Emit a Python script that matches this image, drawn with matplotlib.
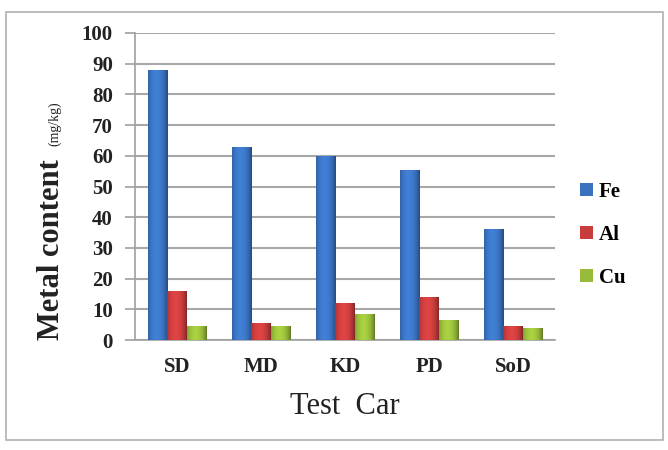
import numpy as np
import matplotlib
matplotlib.use("Agg")
import matplotlib.pyplot as plt
from matplotlib.patches import Rectangle
from matplotlib.colors import to_rgb

cars = ["SD", "MD", "KD", "PD", "SoD"]
fe = [88, 63, 60, 55.5, 36]
al = [16, 5.5, 12, 14, 4.5]
cu = [4.5, 4.5, 8.5, 6.5, 4]
y_ticks = [0, 10, 20, 30, 40, 50, 60, 70, 80, 90, 100]

plt.rcParams['font.family'] = ['Liberation Serif', 'DejaVu Serif']

fig = plt.figure(figsize=(6.68, 4.5), dpi=100)
fig.patches.append(Rectangle((6 / 668, 1 - 440 / 450), 657 / 668, 428 / 450,
                             transform=fig.transFigure, fill=False,
                             edgecolor="#b0b0b0", linewidth=1.2))
ax = fig.add_axes([135 / 668, 1 - 340 / 450, 420 / 668, 307 / 450])

x = np.arange(len(cars))
w = 0.23
series = [(fe, "#3a72c0", "Fe"),
          (al, "#c83c3c", "Al"),
          (cu, "#98bb3a", "Cu")]

# horizontal shading so bars look rounded like the original
t = np.linspace(0, 1, 60)
shade = 0.62 + 0.5 * np.sin(np.pi * (0.12 + 0.88 * t)) ** 0.7

for i, (vals, col, name) in enumerate(series):
    bars = ax.bar(x + (i - 1) * w, vals, w, color=col, linewidth=0,
                  label=name, zorder=3)
    base = np.array(to_rgb(col))
    img = np.clip(shade[:, None] * base[None, :], 0, 1)[None, :, :]
    for b in bars:
        bx, by = b.get_x(), b.get_y()
        bw, bh = b.get_width(), b.get_height()
        im = ax.imshow(img, extent=[bx, bx + bw, by, by + bh], aspect='auto',
                       interpolation='bilinear', zorder=3.5)
        im.set_clip_path(b)

ax.set_xlim(-0.5, len(cars) - 0.5)
ax.set_ylim(0, 100)
ax.set_yticks(y_ticks)
ax.set_yticklabels([str(v) for v in y_ticks], fontsize=15, fontweight='bold')
ax.set_xticks(x)
ax.set_xticklabels(cars, fontsize=15, fontweight='bold')
ax.tick_params(axis='x', length=0, pad=12)
ax.tick_params(axis='y', length=7, width=1.2, color="#a0a0a0", pad=9)
for lab in ax.get_yticklabels() + ax.get_xticklabels():
    lab.set_color("#222222")
ax.yaxis.grid(True, color="#a8a8a8", linewidth=1.5, zorder=0)
for s in ["top", "right"]:
    ax.spines[s].set_visible(False)
for s in ["left", "bottom"]:
    ax.spines[s].set_color("#a0a0a0")
    ax.spines[s].set_linewidth(1.2)

ax.set_xlabel("Test  Car", fontsize=22, labelpad=11, color="#222222")
fig.text(52 / 668, 1 - 250 / 450, "Metal content", rotation=90, fontsize=22,
         fontweight='bold', ha='center', va='center', color="#222222")
fig.text(55 / 668, 1 - 124 / 450, "(mg/kg)", rotation=90, fontsize=10,
         ha='center', va='center', color="#222222")

handles, labels = ax.get_legend_handles_labels()
fig.legend(handles, labels, loc='center left', bbox_to_anchor=(580 / 668, 1 - 235 / 450),
           frameon=False, borderpad=0, borderaxespad=0, handlelength=0.6,
           handleheight=0.6, handletextpad=0.3, labelspacing=1.1,
           prop={'weight': 'bold', 'size': 15})

fig.savefig("out.png", dpi=100)
